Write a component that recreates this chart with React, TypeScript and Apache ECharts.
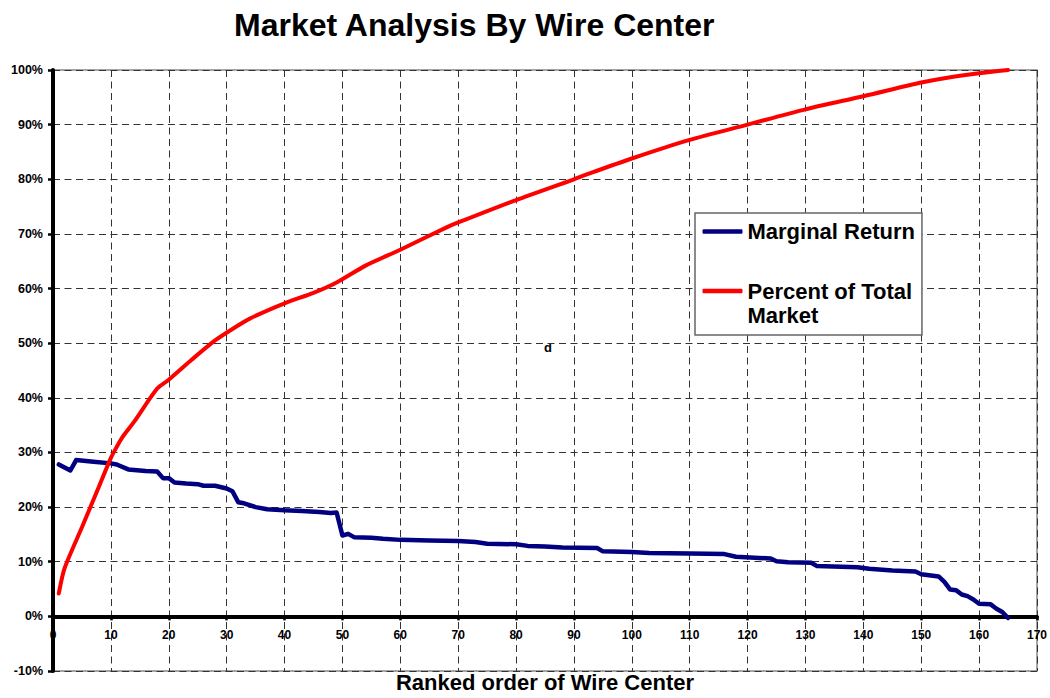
import React, { useEffect, useRef } from 'react';
import * as echarts from 'echarts';

const TITLE = 'Market Analysis By Wire Center';
const X_TITLE = 'Ranked order of Wire Center';
const NOTE = 'd';
const SERIES_NAMES = ['Marginal Return', 'Percent of Total Market'];
const X_MIN = 0;
const X_MAX = 170;
const X_STEP = 10;
const Y_MIN = -10;
const Y_MAX = 100;
const Y_STEP = 10;

// Marginal Return (%)
const marginalRank = [1, 3, 4, 7, 10, 11, 13, 16, 18, 19, 20, 21, 23, 25, 26, 28, 30, 31, 32, 33, 35, 37, 40, 43, 46, 48, 49, 50, 51, 52, 55, 57, 60, 65, 70, 73, 75, 80, 82, 85, 88, 94, 95, 100, 103, 110, 116, 118, 124, 125, 127, 131, 132, 139, 141, 145, 149, 150, 153, 154, 155, 156, 157, 158, 159, 160, 162, 163, 164, 165];
const marginalValue = [27.8, 26.7, 28.6, 28.3, 28.0, 27.8, 26.9, 26.6, 26.5, 25.3, 25.3, 24.5, 24.3, 24.2, 23.9, 23.9, 23.4, 22.9, 20.9, 20.7, 20.0, 19.6, 19.4, 19.3, 19.1, 18.9, 19.0, 14.8, 15.1, 14.5, 14.4, 14.2, 14.0, 13.9, 13.8, 13.6, 13.3, 13.2, 12.9, 12.8, 12.6, 12.5, 11.9, 11.8, 11.6, 11.5, 11.4, 10.9, 10.6, 10.1, 9.9, 9.8, 9.2, 9.0, 8.7, 8.4, 8.2, 7.7, 7.3, 6.3, 4.9, 4.8, 4.0, 3.7, 3.1, 2.3, 2.2, 1.4, 0.8, -0.3];

// Percent of Total Market (%)
const totalRank = [1, 2, 5, 8, 10, 11, 12, 14, 18, 20, 24, 28, 31, 34, 40, 45, 49, 54, 60, 68, 70, 80, 90, 92, 100, 110, 120, 130, 140, 150, 154, 160, 165];
const totalValue = [4.2, 8.8, 16.3, 23.9, 29.0, 31.0, 32.8, 35.6, 41.7, 43.3, 47.0, 50.5, 52.6, 54.5, 57.3, 59.2, 61.1, 64.2, 67.1, 71.2, 72.1, 76.2, 80.0, 80.8, 83.8, 87.2, 90.0, 92.8, 95.2, 97.7, 98.5, 99.4, 100.0];

const FONT = "'Liberation Sans', Arial, Helvetica, sans-serif";

const GRID_TOP = 70;
const GRID_BOTTOM = 27;
const CHART_H = 698;

export default function App() {
  const ref = useRef<HTMLDivElement>(null);

  useEffect(() => {
    if (!ref.current) return;
    const chart = echarts.init(ref.current, null, { renderer: 'svg' });
    const marginalData = marginalRank.map((r, i) => [r, marginalValue[i]]);
    const totalData = totalRank.map((r, i) => [r, totalValue[i]]);
    const dashed = { color: '#333', width: 1, type: [7, 4.5] as number[] };
    // move the category axis up from the bottom edge to the 0% line
    const plotH = CHART_H - GRID_TOP - GRID_BOTTOM;
    const zeroOffset = -plotH * (0 - Y_MIN) / (Y_MAX - Y_MIN);

    chart.setOption({
      animation: false,
      backgroundColor: '#fff',
      textStyle: { fontFamily: FONT },
      title: {
        text: TITLE,
        left: 234,
        top: 9,
        padding: 0,
        textStyle: { fontFamily: FONT, fontSize: 32, fontWeight: 'bold', color: '#000' },
      },
      grid: {
        left: 53,
        right: 13,
        top: GRID_TOP,
        bottom: GRID_BOTTOM,
        containLabel: false,
        outerBoundsMode: 'none',
        show: true,
        borderColor: '#888',
        borderWidth: 1.5,
        backgroundColor: 'transparent',
      },
      legend: {
        orient: 'vertical',
        left: 695,
        top: 213,
        padding: [6.5, 7, 8, 7.5],
        itemGap: 11.5,
        itemWidth: 40,
        itemHeight: 4.5,
        icon: 'roundRect',
        selectedMode: false,
        backgroundColor: '#fff',
        borderColor: '#666',
        borderWidth: 1.5,
        data: SERIES_NAMES,
        formatter: (name: string) => (name === 'Percent of Total Market' ? '\nPercent of Total\nMarket' : name),
        textStyle: { fontFamily: FONT, fontSize: 22, fontWeight: 'bold', color: '#000', lineHeight: 24 },
      },
      xAxis: {
        type: 'value',
        min: X_MIN,
        max: X_MAX,
        interval: X_STEP,
        offset: zeroOffset,
        name: X_TITLE,
        nameLocation: 'middle',
        nameGap: 55,
        nameTextStyle: { fontFamily: FONT, fontSize: 22, fontWeight: 'bold', color: '#000' },
        axisLine: { show: true, onZero: false, lineStyle: { color: '#000', width: 4 } },
        axisTick: { show: true, length: 4, lineStyle: { color: '#000', width: 2.5 } },
        axisLabel: { margin: 13, fontFamily: FONT, fontSize: 12, fontWeight: 'bold', color: '#000' },
        splitLine: { show: true, lineStyle: dashed },
      },
      yAxis: {
        type: 'value',
        min: Y_MIN,
        max: Y_MAX,
        interval: Y_STEP,
        axisLine: { show: true, onZero: false, lineStyle: { color: '#000', width: 4 } },
        axisTick: { show: true, length: 5, lineStyle: { color: '#000', width: 2.5 } },
        axisLabel: { margin: 10, formatter: '{value}%', fontFamily: FONT, fontSize: 12.5, fontWeight: 'bold', color: '#000' },
        splitLine: { show: true, lineStyle: dashed },
      },
      series: [
        {
          name: SERIES_NAMES[0],
          type: 'line',
          data: marginalData,
          symbol: 'none',
          showSymbol: false,
          color: '#000080',
          lineStyle: { color: '#000080', width: 4.5, cap: 'round', join: 'round' },
          z: 3,
        },
        {
          name: SERIES_NAMES[1],
          type: 'line',
          data: totalData,
          symbol: 'none',
          showSymbol: false,
          smooth: 0.25,
          color: '#ff0000',
          lineStyle: { color: '#ff0000', width: 4, cap: 'round', join: 'round' },
          z: 4,
        },
      ],
      graphic: [
        {
          type: 'text',
          x: 548,
          y: 347,
          style: { text: NOTE, font: `bold 13px ${FONT}`, fill: '#000', align: 'center', verticalAlign: 'middle' },
        },
      ],
    });

    return () => chart.dispose();
  }, []);

  return (
    <div
      ref={ref}
      style={{ position: 'fixed', left: 0, top: 0, width: 1050, height: 698, background: '#fff' }}
    />
  );
}
